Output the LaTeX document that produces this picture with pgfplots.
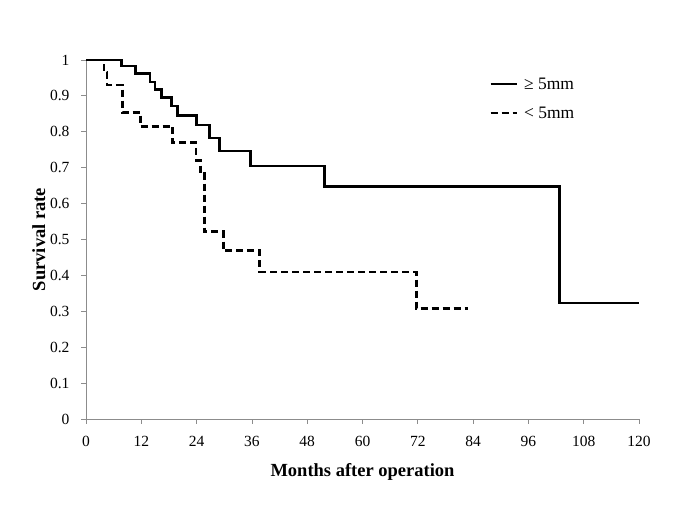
\documentclass[border=0pt]{standalone}
\usepackage{fontspec}
\setmainfont{Liberation Serif}
\usepackage{pgfplots}
\pgfplotsset{compat=1.18}

\begin{document}
\begin{tikzpicture}
\path (0,0) rectangle (685pt,513pt);
\begin{axis}[
  at={(86pt,94pt)}, anchor=south west,
  scale only axis, width=553pt, height=359pt,
  xmin=0, xmax=120, ymin=0, ymax=1,
  xtick={0,12,24,36,48,60,72,84,96,108,120},
  ytick={0,0.1,0.2,0.3,0.4,0.5,0.6,0.7,0.8,0.9,1},
  yticklabels={0,0.1,0.2,0.3,0.4,0.5,0.6,0.7,0.8,0.9,1},
  axis lines*=left,
  axis line style={black!45, line width=0.8pt},
  tick style={black!45, line width=0.8pt},
  tick align=outside, major tick length=5pt,
  /pgf/number format/assume math mode=true,
  tick label style={font=\fontsize{15.5}{17}\selectfont},
  xticklabel style={yshift=-9pt},
  yticklabel style={xshift=-8pt},
  xlabel={Months after operation},
  ylabel={Survival rate},
  label style={font=\fontsize{18.5}{20}\selectfont\bfseries},
  xlabel style={yshift=-10pt},
  ylabel style={yshift=-2pt},
  legend cell align=left,
  legend image code/.code={\draw[#1] (0pt,0pt) -- (26pt,0pt);},
  legend style={at={(axis cs:87.5,0.957)}, anchor=north west, draw=none, fill=none,
    font=\fontsize{17.5}{20}\selectfont, row sep=12pt, inner sep=0pt,
    nodes={inner sep=2pt}},
]
\addplot[const plot, black, line width=2.6pt, line join=miter] coordinates {
  (0,1) (7.7,0.983) (10.8,0.963) (13.9,0.939) (15,0.918) (16.4,0.895)
  (18.5,0.872) (19.9,0.846) (24,0.819) (26.8,0.783) (29,0.746)
  (35.7,0.705) (51.8,0.647) (102.8,0.323) (120,0.323)
};
\addlegendentry{\hspace{4pt}≥ 5mm}
\addplot[const plot, black, line width=2.6pt, line join=miter, dash pattern=on 7pt off 4pt] coordinates {
  (0,1) (3.9,0.967) (4.6,0.93) (7.9,0.854) (11.8,0.815) (18.8,0.77)
  (23.9,0.72) (24.8,0.683) (25.7,0.522) (29.8,0.469) (37.7,0.41)
  (71.7,0.308) (83,0.308)
};
\addlegendentry{\hspace{4pt}< 5mm}
\end{axis}
\end{tikzpicture}
\end{document}
